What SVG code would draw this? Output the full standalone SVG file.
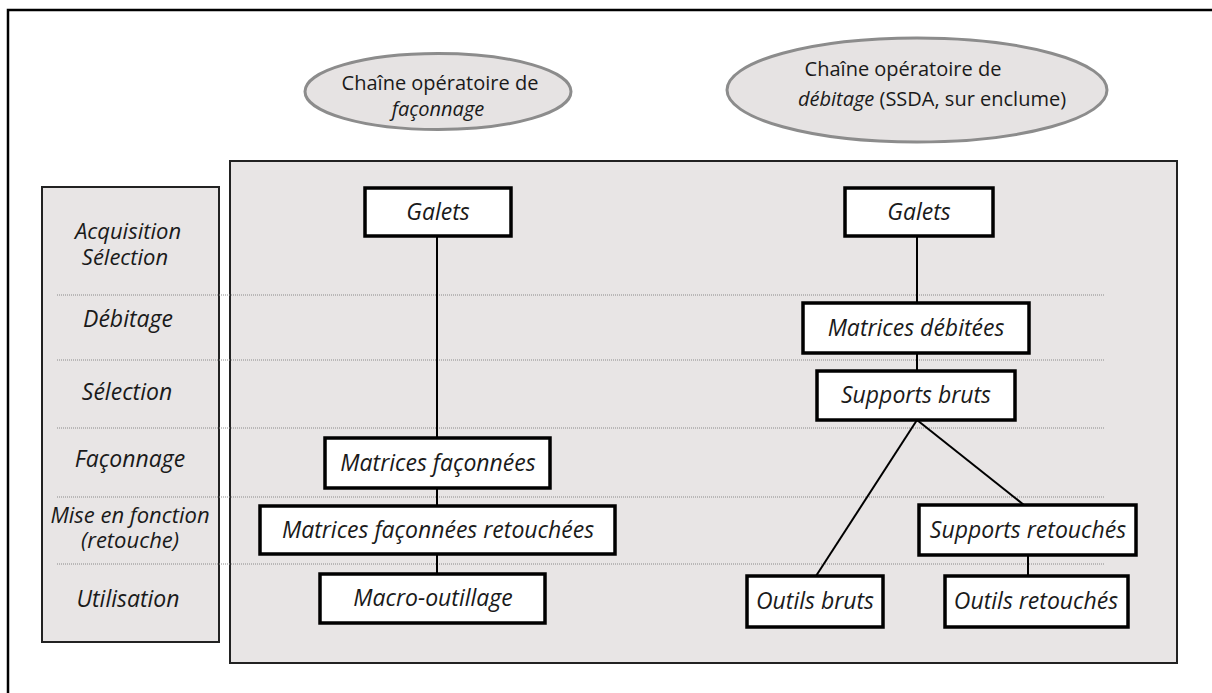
<svg xmlns="http://www.w3.org/2000/svg" width="1212" height="693" viewBox="0 0 1212 693">
<style>
.frame{fill:none;stroke:#000;stroke-width:2.5}
.panel{fill:#e8e5e5;stroke:#222;stroke-width:2}
.dot{stroke:#8a8a8a;stroke-width:1;stroke-dasharray:1 1;fill:none}
.oval{fill:#e6e3e3;stroke:#8c8c8c;stroke-width:3}
.node rect{fill:#fff;stroke:#000;stroke-width:3.5}
.lbl{font-family:"Open Sans","Noto Sans",sans-serif;font-style:italic;font-size:23px;fill:#1a1a1a;text-anchor:middle}
.lbl2{font-family:"Open Sans","Noto Sans",sans-serif;font-style:italic;font-size:22px;fill:#1a1a1a;text-anchor:middle}
.otxt{font-family:"Open Sans","Noto Sans",sans-serif;font-size:20px;fill:#1a1a1a;text-anchor:middle}
.conn line{stroke:#000;stroke-width:2}
</style>
<rect width="1212" height="693" fill="#fff"/>
<path class="frame" d="M8 693 V10 H1212"/>

<g id="ellipse-faconnage">
<ellipse class="oval" cx="438" cy="91.5" rx="133" ry="38"/>
<text class="otxt" x="440" y="90" font-size="21">Chaîne opératoire de</text>
<text class="otxt" x="438" y="116" font-size="21" font-style="italic">façonnage</text>
</g>
<g id="ellipse-debitage">
<ellipse class="oval" cx="917" cy="90" rx="190" ry="52"/>
<text class="otxt" x="903" y="76">Chaîne opératoire de</text>
<text class="otxt" x="932" y="106"><tspan font-style="italic">débitage</tspan> (SSDA, sur enclume)</text>
</g>

<g id="phases">
<rect class="panel" x="42" y="187" width="177" height="455"/>
<text class="lbl2" x="128" y="239">Acquisition</text>
<text class="lbl2" x="125" y="265">Sélection</text>
<text class="lbl" x="128" y="327">Débitage</text>
<text class="lbl" x="127" y="400">Sélection</text>
<text class="lbl" x="130" y="467">Façonnage</text>
<text class="lbl2" x="130" y="523">Mise en fonction</text>
<text class="lbl2" x="130" y="548">(retouche)</text>
<text class="lbl" x="128" y="607">Utilisation</text>
</g>

<g id="main-panel">
<rect class="panel" x="230" y="161" width="947" height="502"/>
</g>

<g id="separators">
<line class="dot" x1="57" y1="295" x2="1105" y2="295"/>
<line class="dot" x1="57" y1="360" x2="1105" y2="360"/>
<line class="dot" x1="57" y1="428" x2="1105" y2="428"/>
<line class="dot" x1="57" y1="497" x2="1105" y2="497"/>
<line class="dot" x1="57" y1="564" x2="1105" y2="564"/>
</g>

<g id="connectors" class="conn">
<line x1="437" y1="236" x2="437" y2="438"/>
<line x1="437" y1="488" x2="437" y2="506"/>
<line x1="437" y1="554" x2="437" y2="574"/>
<line x1="917" y1="236" x2="917" y2="303"/>
<line x1="917" y1="353" x2="917" y2="371"/>
<line x1="917" y1="420" x2="816" y2="576"/>
<line x1="917" y1="420" x2="1024" y2="505"/>
<line x1="1028" y1="555" x2="1028" y2="576"/>
</g>

<g id="galets-f" class="node"><rect x="365" y="188" width="146" height="48"/><text class="lbl" x="438" y="220">Galets</text></g>
<g id="matrices-faconnees" class="node"><rect x="325" y="438" width="225" height="50"/><text class="lbl" x="438" y="471">Matrices façonnées</text></g>
<g id="matrices-faconnees-retouchees" class="node"><rect x="260" y="506" width="355" height="48"/><text class="lbl" x="438" y="538">Matrices façonnées retouchées</text></g>
<g id="macro-outillage" class="node"><rect x="320" y="574" width="225" height="49"/><text class="lbl" x="433" y="606">Macro-outillage</text></g>

<g id="galets-d" class="node"><rect x="845" y="188" width="148" height="48"/><text class="lbl" x="919" y="220">Galets</text></g>
<g id="matrices-debitees" class="node"><rect x="803" y="303" width="226" height="50"/><text class="lbl" x="916" y="336">Matrices débitées</text></g>
<g id="supports-bruts" class="node"><rect x="817" y="371" width="198" height="49"/><text class="lbl" x="916" y="403">Supports bruts</text></g>
<g id="supports-retouches" class="node"><rect x="919" y="505" width="217" height="50"/><text class="lbl" x="1028" y="538">Supports retouchés</text></g>
<g id="outils-bruts" class="node"><rect x="747" y="576" width="136" height="51"/><text class="lbl" x="815" y="609">Outils bruts</text></g>
<g id="outils-retouches" class="node"><rect x="945" y="576" width="183" height="51"/><text class="lbl" x="1036" y="609">Outils retouchés</text></g>
</svg>
